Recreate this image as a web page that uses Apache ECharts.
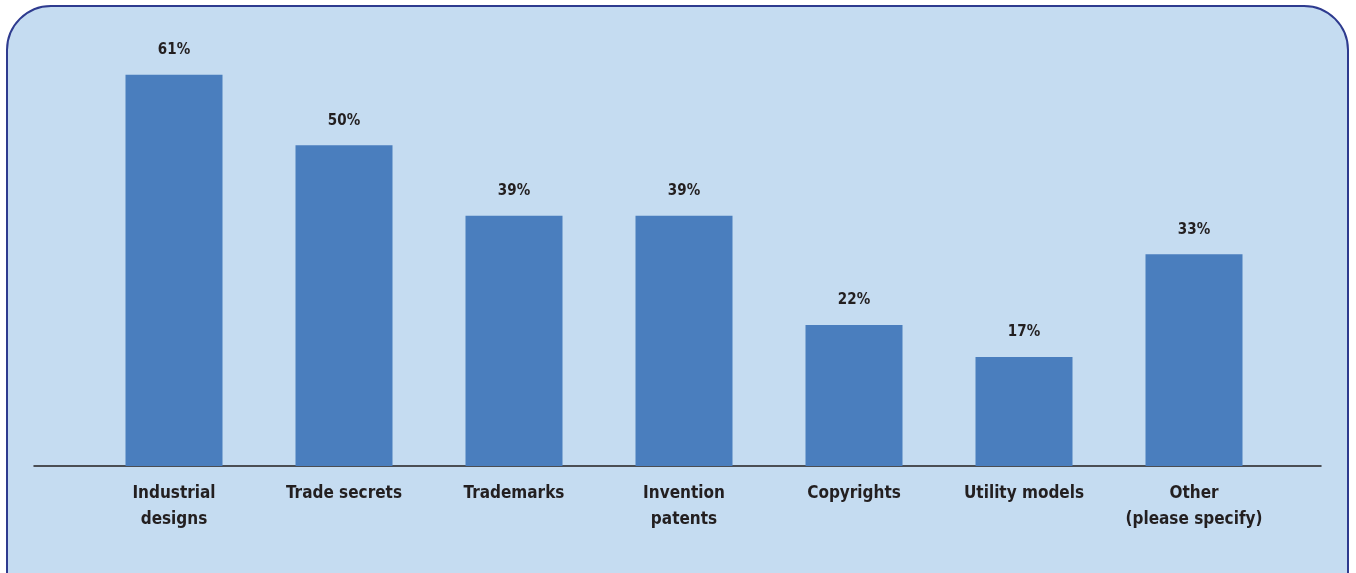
<!DOCTYPE html>
<html>
<head>
<meta charset="utf-8">
<script src="https://cdn.jsdelivr.net/npm/echarts@6/dist/echarts.min.js"></script>
<style>
html,body{margin:0;padding:0;background:#ffffff;}
#chart{width:1356px;height:573px;}
</style>
</head>
<body>
<div id="chart"></div>
<script>
const categories = ["Industrial\ndesigns", "Trade secrets", "Trademarks", "Invention\npatents", "Copyrights", "Utility models", "Other\n(please specify)"];
const values = [61, 50, 39, 39, 22, 17, 33];

const FONT = '"DejaVu Sans Condensed", "Liberation Sans Narrow", sans-serif';
const chart = echarts.init(document.getElementById('chart'));
chart.setOption({
  backgroundColor: 'transparent',
  animation: false,
  graphic: [
    {
      type: 'rect', z: -10, silent: true,
      shape: { x: 7, y: 6, width: 1341, height: 620, r: 44 },
      style: { fill: '#c5dcf1', stroke: '#2e3b8f', lineWidth: 2 }
    }
  ],
  grid: [
    { left: 89, right: 77, top: 17, bottom: 107, containLabel: false },
    { left: 34, right: 35, top: 17, bottom: 107, containLabel: false }
  ],
  xAxis: [
    {
      type: 'category', gridIndex: 0, data: categories,
      axisLine: { show: false },
      axisTick: { show: false },
      axisLabel: {
        interval: 0, margin: 15, color: '#231f20',
        fontFamily: FONT, fontWeight: 'bold', fontSize: 17, lineHeight: 26
      }
    },
    {
      type: 'value', gridIndex: 1, min: 0, max: 1,
      axisLine: { show: true, onZero: false, lineStyle: { color: '#231f20', width: 1.5 } },
      axisTick: { show: false }, axisLabel: { show: false }, splitLine: { show: false }
    }
  ],
  yAxis: [
    { type: 'value', gridIndex: 0, min: 0, max: 70, show: false, splitLine: { show: false } },
    { type: 'value', gridIndex: 1, min: 0, max: 1, show: false, splitLine: { show: false } }
  ],
  series: [{
    type: 'bar', xAxisIndex: 0, yAxisIndex: 0,
    data: values, barWidth: 97,
    itemStyle: { color: '#4a7ebe' },
    label: {
      show: true, position: 'top', distance: 17,
      formatter: '{c}%', color: '#231f20',
      fontFamily: FONT, fontWeight: 'bold', fontSize: 15
    }
  }]
});
</script>
</body>
</html>
